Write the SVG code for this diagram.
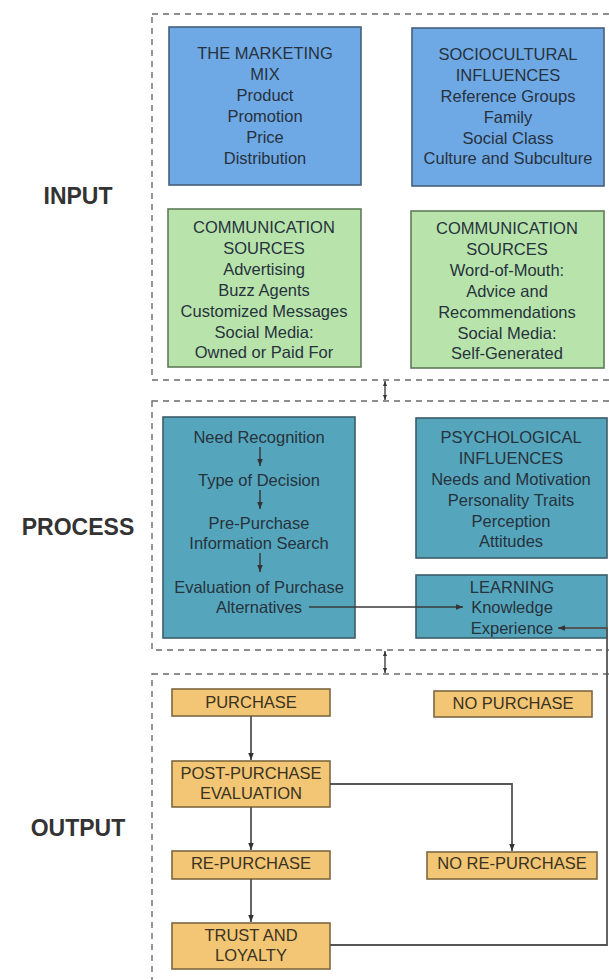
<svg xmlns="http://www.w3.org/2000/svg" width="609" height="980" viewBox="0 0 609 980">
<defs>
<style>
.sec{fill:none;stroke:#6a6a6a;stroke-width:1.4;stroke-dasharray:6 5}
.lbl{font-family:"Liberation Sans",Arial,sans-serif;font-weight:bold;font-size:23px;fill:#333;text-anchor:middle}
.t{font-family:"Liberation Sans",Arial,sans-serif;font-size:16.5px;fill:#27323c;text-anchor:middle}
.to{font-family:"Liberation Sans",Arial,sans-serif;font-size:16.5px;fill:#3a3222;text-anchor:middle}
.blue{fill:#6ea9e6;stroke:#45607c;stroke-width:1.6}
.green{fill:#b8e4ac;stroke:#5f7a58;stroke-width:1.6}
.teal{fill:#55a6bd;stroke:#3b5d68;stroke-width:1.6}
.orange{fill:#f2c674;stroke:#7d6840;stroke-width:1.6}
.ln{fill:none;stroke:#3a3a3a;stroke-width:1.5}
.lng{fill:none;stroke:#555;stroke-width:1.8}
.lnd{fill:none;stroke:#333;stroke-width:1.3}
</style>
<marker id="ah" viewBox="0 0 10 10" refX="10" refY="5" markerWidth="7" markerHeight="7" markerUnits="userSpaceOnUse" orient="auto"><path d="M0,1 L10,5 L0,9 z" fill="#333"/></marker>
<marker id="ahs" viewBox="0 0 10 10" refX="10" refY="5" markerWidth="5" markerHeight="5" markerUnits="userSpaceOnUse" orient="auto-start-reverse"><path d="M0,1 L10,5 L0,9 z" fill="#333"/></marker>
</defs>
<rect width="609" height="980" fill="#ffffff"/>

<g id="sections">
<rect class="sec" x="152" y="14" width="480" height="366"/>
<rect class="sec" x="152" y="401" width="480" height="249"/>
<rect class="sec" x="152" y="674" width="480" height="340"/>
<text class="lbl" x="78" y="204">INPUT</text>
<text class="lbl" x="78" y="535">PROCESS</text>
<text class="lbl" x="78" y="836">OUTPUT</text>
</g>

<g id="marketing-mix">
<rect class="blue" x="169" y="27" width="192" height="158"/>
<text class="t" x="265" y="59">THE MARKETING</text>
<text class="t" x="265" y="80">MIX</text>
<text class="t" x="265" y="101">Product</text>
<text class="t" x="265" y="122">Promotion</text>
<text class="t" x="265" y="143">Price</text>
<text class="t" x="265" y="164">Distribution</text>
</g>

<g id="sociocultural">
<rect class="blue" x="412" y="28" width="192" height="158"/>
<text class="t" x="508" y="60">SOCIOCULTURAL</text>
<text class="t" x="508" y="81">INFLUENCES</text>
<text class="t" x="508" y="102">Reference Groups</text>
<text class="t" x="508" y="123">Family</text>
<text class="t" x="508" y="144">Social Class</text>
<text class="t" x="508" y="164">Culture and Subculture</text>
</g>

<g id="comm-sources-1">
<rect class="green" x="168" y="209" width="193" height="158"/>
<text class="t" x="264" y="233">COMMUNICATION</text>
<text class="t" x="264" y="254">SOURCES</text>
<text class="t" x="264" y="275">Advertising</text>
<text class="t" x="264" y="296">Buzz Agents</text>
<text class="t" x="264" y="317">Customized Messages</text>
<text class="t" x="264" y="338">Social Media:</text>
<text class="t" x="264" y="358">Owned or Paid For</text>
</g>

<g id="comm-sources-2">
<rect class="green" x="411" y="211" width="193" height="157"/>
<text class="t" x="507" y="234">COMMUNICATION</text>
<text class="t" x="507" y="255">SOURCES</text>
<text class="t" x="507" y="276">Word-of-Mouth:</text>
<text class="t" x="507" y="297">Advice and</text>
<text class="t" x="507" y="318">Recommendations</text>
<text class="t" x="507" y="339">Social Media:</text>
<text class="t" x="507" y="359">Self-Generated</text>
</g>

<g id="decision-process">
<rect class="teal" x="163" y="417" width="192" height="221"/>
<text class="t" x="259" y="443">Need Recognition</text>
<text class="t" x="259" y="486">Type of Decision</text>
<text class="t" x="259" y="529">Pre-Purchase</text>
<text class="t" x="259" y="549">Information Search</text>
<text class="t" x="259" y="593">Evaluation of Purchase</text>
<text class="t" x="259" y="613">Alternatives</text>
</g>

<g id="psychological">
<rect class="teal" x="416" y="418" width="191" height="140"/>
<text class="t" x="511" y="443">PSYCHOLOGICAL</text>
<text class="t" x="511" y="464">INFLUENCES</text>
<text class="t" x="511" y="485">Needs and Motivation</text>
<text class="t" x="511" y="506">Personality Traits</text>
<text class="t" x="511" y="527">Perception</text>
<text class="t" x="511" y="547">Attitudes</text>
</g>

<g id="learning">
<rect class="teal" x="416" y="575" width="191" height="63"/>
<text class="t" x="512" y="593">LEARNING</text>
<text class="t" x="512" y="613">Knowledge</text>
<text class="t" x="512" y="634">Experience</text>
</g>

<g id="purchase">
<rect class="orange" x="172" y="689" width="158" height="27"/>
<text class="to" x="251" y="708">PURCHASE</text>
</g>
<g id="no-purchase">
<rect class="orange" x="434" y="691" width="158" height="26"/>
<text class="to" x="513" y="709">NO PURCHASE</text>
</g>
<g id="post-purchase">
<rect class="orange" x="172" y="761" width="158" height="46"/>
<text class="to" x="251" y="779">POST-PURCHASE</text>
<text class="to" x="251" y="799">EVALUATION</text>
</g>
<g id="re-purchase">
<rect class="orange" x="172" y="851" width="158" height="28"/>
<text class="to" x="251" y="869">RE-PURCHASE</text>
</g>
<g id="no-re-purchase">
<rect class="orange" x="427" y="852" width="170" height="27"/>
<text class="to" x="512" y="869">NO RE-PURCHASE</text>
</g>
<g id="trust-loyalty">
<rect class="orange" x="172" y="923" width="158" height="46"/>
<text class="to" x="251" y="941">TRUST AND</text>
<text class="to" x="251" y="961">LOYALTY</text>
</g>

<g id="connectors">
<line class="lnd" x1="385" y1="381" x2="385" y2="400" marker-start="url(#ahs)" marker-end="url(#ahs)"/>
<line class="lnd" x1="385" y1="651" x2="385" y2="673" marker-start="url(#ahs)" marker-end="url(#ahs)"/>
<line class="ln" x1="260" y1="447" x2="260" y2="466" marker-end="url(#ah)"/>
<line class="ln" x1="260" y1="490" x2="260" y2="509" marker-end="url(#ah)"/>
<line class="ln" x1="260" y1="553" x2="260" y2="572" marker-end="url(#ah)"/>
<line class="ln" x1="309" y1="607" x2="463" y2="607" marker-end="url(#ah)"/>
<polyline class="lng" points="330,945 607,945 607,628 558,628" marker-end="url(#ah)"/>
<line class="lng" x1="251" y1="716" x2="251" y2="760" marker-end="url(#ah)"/>
<line class="lng" x1="251" y1="807" x2="251" y2="850" marker-end="url(#ah)"/>
<line class="lng" x1="251" y1="879" x2="251" y2="922" marker-end="url(#ah)"/>
<polyline class="lng" points="330,784 512,784 512,851" marker-end="url(#ah)"/>
</g>
</svg>
